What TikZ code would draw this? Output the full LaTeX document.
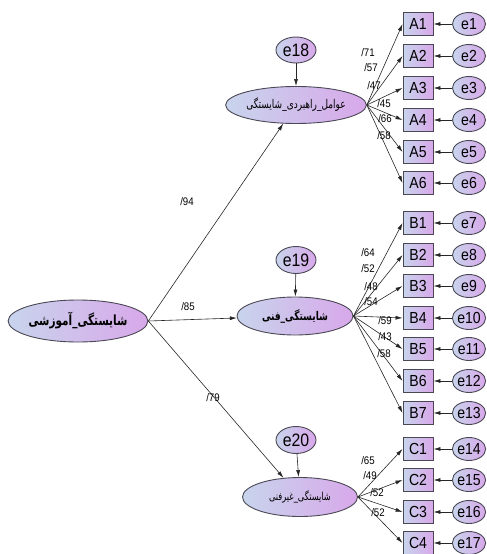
\documentclass[tikz,border=0pt]{standalone}
\usepackage{fontspec}
\setmainfont{Liberation Sans}[FakeStretch=0.88]
\newfontfamily\farsi[Script=Arabic,FakeStretch=0.75]{DejaVu Sans}
\TeXXeTstate=1
\usetikzlibrary{arrows.meta,shapes.geometric}
\definecolor{lblue}{RGB}{200,212,236}
\definecolor{lviolet}{RGB}{216,168,234}
\definecolor{rim}{RGB}{75,72,85}
\tikzset{
	latent/.style={ellipse, draw=rim, line width=0.9pt, left color=lblue, right color=lviolet, inner sep=0pt},
	item/.style={rectangle, draw=rim, line width=0.9pt, left color=lblue, right color=lviolet,
			minimum width=30pt, minimum height=23pt, inner sep=0pt, font=\fontsize{16}{16}\selectfont},
	err/.style={latent, minimum width=33pt, minimum height=23pt, font=\fontsize{16}{16}\selectfont},
	path/.style={draw=black!85, line width=0.6pt, -{Latex[length=7pt,width=4pt]}},
	coef/.style={inner sep=0pt, font=\fontsize{11}{11}\selectfont}
}

\begin{document}
\begin{tikzpicture}[x=1pt, y=-1pt]
	\useasboundingbox (0,0) rectangle (487,554);

	% Latent factors
	\node[latent, minimum width=138pt, minimum height=42pt] (main) at (78,321)
		{\farsi\bfseries\fontsize{14}{14}\selectfont\beginR شایستگی\_آموزشی\endR};
	\node[latent, minimum width=116pt, minimum height=37pt] (fA) at (296,105)
		{\farsi\fontsize{12}{12}\selectfont\beginR عوامل\_راهبردی\_شایستگی\endR};
	\node[latent, minimum width=116pt, minimum height=38pt] (fB) at (295,316)
		{\farsi\bfseries\fontsize{12}{12}\selectfont\beginR شایستگی\_فنی\endR};
	\node[latent, minimum width=115pt, minimum height=39pt] (fC) at (300,497)
		{\farsi\fontsize{11}{11}\selectfont\beginR شایستگی\_غیرفنی\endR};

	% Disturbances
	\node[err, minimum width=40pt, minimum height=26pt, font=\fontsize{18}{18}\selectfont] (e18) at (296,50) {e18};
	\node[err, minimum width=40pt, minimum height=27pt, font=\fontsize{18}{18}\selectfont] (e19) at (296,260) {e19};
	\node[err, minimum width=40pt, minimum height=27pt, font=\fontsize{18}{18}\selectfont] (e20) at (296,440) {e20};
	\draw[path] (e18) -- (fA);
	\draw[path] (e19) -- (fB);
	\draw[path] (e20) -- (fC);

	% Structural paths
	\draw[path] (main.east) -- (fA);
	\draw[path] (main.east) -- (fB);
	\draw[path] (main.east) -- (fC);
	\node[coef] (pA) at (187,202) {/94};
	\node[coef] (pB) at (188,307) {/85};
	\node[coef] (pC) at (213,398) {/79};

	% Indicators and their errors
	\foreach \i/\y/\e in {1/24/1, 2/56/2, 3/88/3, 4/120/4, 5/152/5, 6/183/6}{
		\node[item] (A\i) at (418,\y) {A\i};
		\node[err] (e\e) at (469,\y) {e\e};
		\draw[path] (e\e) -- (A\i);
	}
	\foreach \i/\y/\e in {1/223/7, 2/255/8, 3/286/9, 4/318/10, 5/349/11, 6/381/12, 7/413/13}{
		\node[item] (B\i) at (418,\y) {B\i};
		\node[err] (e\e) at (469,\y) {e\e};
		\draw[path] (e\e) -- (B\i);
	}
	\foreach \i/\y/\e in {1/449/14, 2/480/15, 3/512/16, 4/543/17}{
		\node[item] (C\i) at (418,\y) {C\i};
		\node[err] (e\e) at (469,\y) {e\e};
		\draw[path] (e\e) -- (C\i);
	}

	% Loadings
	\foreach \i/\v/\lx/\ly in {1/71/368/53, 2/57/371/68, 3/47/374/86, 4/45/384/104, 5/66/385/119, 6/58/384/136}{
		\draw[path] (fA.east) -- (A\i.west);
		\node[coef] (lA\i) at (\lx,\ly) {/\v};
	}
	\foreach \i/\v/\lx/\ly in {1/64/368/253, 2/52/368/269, 3/48/371/287, 4/54/371/302, 5/59/385/321, 6/43/385/337, 7/58/384/354}{
		\draw[path] (fB.east) -- (B\i.west);
		\node[coef] (lB\i) at (\lx,\ly) {/\v};
	}
	\foreach \i/\v/\lx/\ly in {1/65/368/461, 2/49/370/476, 3/52/377/493, 4/52/378/513}{
		\draw[path] (fC.east) -- (C\i.west);
		\node[coef] (lC\i) at (\lx,\ly) {/\v};
	}
\end{tikzpicture}
\end{document}
